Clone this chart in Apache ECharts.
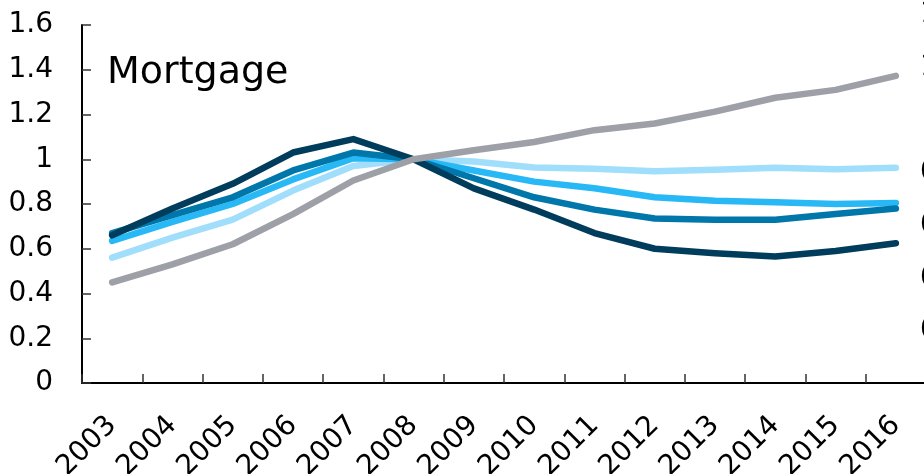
<!DOCTYPE html>
<html>
<head>
<meta charset="utf-8">
<script src="https://cdn.jsdelivr.net/npm/echarts@6/dist/echarts.min.js"></script>
<style>
  html, body { margin: 0; padding: 0; background: #ffffff; }
  #chart { width: 924px; height: 474px; }
</style>
</head>
<body>
<div id="chart"></div>
<script>
const years = ['2003','2004','2005','2006','2007','2008','2009','2010','2011','2012','2013','2014','2015','2016'];
const seriesNavy   = [0.66, 0.78, 0.89, 1.03, 1.09, 1.00, 0.87, 0.775, 0.67, 0.60, 0.58, 0.565, 0.59, 0.625];
const seriesMid    = [0.67, 0.75, 0.83, 0.95, 1.03, 1.00, 0.915, 0.83, 0.775, 0.735, 0.73, 0.73, 0.755, 0.78];
const seriesBright = [0.635, 0.72, 0.80, 0.91, 1.005, 1.00, 0.95, 0.90, 0.87, 0.83, 0.815, 0.808, 0.80, 0.805];
const seriesLight  = [0.56, 0.65, 0.73, 0.86, 0.97, 1.00, 0.99, 0.963, 0.957, 0.946, 0.953, 0.962, 0.955, 0.962];
const seriesGray   = [0.45, 0.53, 0.62, 0.755, 0.905, 1.00, 1.04, 1.077, 1.13, 1.16, 1.213, 1.275, 1.31, 1.373];
const panelTitle = 'Mortgage';
const neighbourLabels = ['1.4','1.2','0.8','0.6','0.4','0.2'];
const neighbourY = [15, 68, 173, 226, 279, 331];

const FONT = '"DejaVu Sans", "Liberation Sans", Arial, sans-serif';
const colors = {
  navy: '#003d5c',
  mid: '#0077aa',
  bright: '#29b8f6',
  light: '#a0defb',
  gray: '#9ea0a8'
};

function line(name, data, color) {
  return {
    name: name,
    type: 'line',
    data: data,
    symbol: 'none',
    smooth: false,
    animation: false,
    lineStyle: { color: color, width: 6.5, cap: 'round', join: 'round' }
  };
}

const chart = echarts.init(document.getElementById('chart'), null, { renderer: 'canvas' });
chart.setOption({
  animation: false,
  backgroundColor: '#ffffff',
  grid: { left: 82, top: 25, width: 844, height: 358, containLabel: false, outerBoundsMode: 'none' },
  xAxis: {
    type: 'category',
    data: years,
    boundaryGap: true,
    axisLine: { show: true, lineStyle: { color: '#000', width: 2 } },
    axisTick: { show: true, inside: true, length: 9, lineStyle: { color: '#333', width: 1.5 } },
    axisLabel: { rotate: 45, margin: 38, fontSize: 28, color: '#000', fontFamily: FONT, interval: 0 },
    splitLine: { show: false }
  },
  yAxis: {
    type: 'value',
    min: 0, max: 1.6, interval: 0.2,
    axisLine: { show: true, lineStyle: { color: '#000', width: 2 } },
    axisTick: { show: true, inside: true, length: 9, lineStyle: { color: '#333', width: 1.5 } },
    axisLabel: { margin: 29, fontSize: 28, color: '#000', fontFamily: FONT,
      formatter: function (v) { return String(Math.round(v * 10) / 10); } },
    splitLine: { show: false }
  },
  graphic: [
    { type: 'text', left: 107, top: 54, style: { text: panelTitle, font: '38px ' + FONT, fill: '#000' } }
  ].concat(neighbourLabels.map(function (t, i) {
    return { type: 'text', x: 920, y: neighbourY[i], style: { text: t, font: '28px ' + FONT, fill: '#000', textAlign: 'left', textVerticalAlign: 'middle' } };
  })),
  series: [
    line('light', seriesLight, colors.light),
    line('bright', seriesBright, colors.bright),
    line('mid', seriesMid, colors.mid),
    line('navy', seriesNavy, colors.navy),
    line('gray', seriesGray, colors.gray)
  ]
});
</script>
</body>
</html>
